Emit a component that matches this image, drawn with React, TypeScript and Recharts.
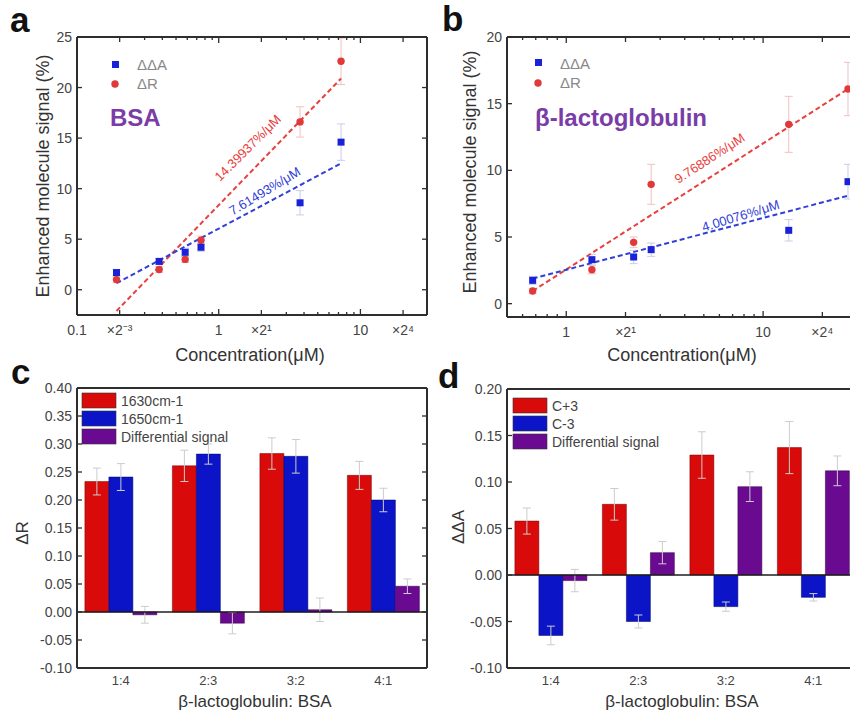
import React from "react";
import { ComposedChart, Scatter, XAxis, YAxis, ErrorBar, BarChart, Bar, ReferenceLine } from "recharts";

const FONT = '"Liberation Sans", Arial, Helvetica, sans-serif';
const AXIS = "#2e2e2e";
const TICK_TEXT = "#444";
const PT_BLUE = "#1a22d8";
const PT_RED = "#e0393a";
const LINE_RED = "#e8403c";
const LINE_BLUE = "#3040d8";
const BAR_RED = "#d80a0a";
const BAR_BLUE = "#0c14c8";
const BAR_PURPLE = "#6a0a90";
const TITLE_PURPLE = "#7a3ca6";

// ---------- Panel a (BSA) ----------
const concA = [0.19, 0.38, 0.58, 0.75, 3.75, 7.3];
const ddaA = [1.7, 2.8, 3.7, 4.2, 8.6, 14.6];
const ddaAErr = [0.3, 0.3, 0.4, 0.4, 1.2, 1.8];
const drA = [1.0, 2.0, 3.0, 4.9, 16.6, 22.6];
const drAErr = [0.3, 0.3, 0.3, 0.4, 1.5, 2.3];
const fitXA = [0.19, 7.3];
const fitRedA = [-2.1, 20.9];
const fitBlueA = [0.65, 12.5];
const logTicksA = [0.1, 0.2, 0.3, 0.4, 0.5, 0.6, 0.7, 0.8, 0.9, 1, 2, 3, 4, 5, 6, 7, 8, 9, 10, 20];
const logLabelsA: [number, string][] = [[0.1, "0.1"], [0.2, "×2⁻³"], [1, "1"], [2, "×2¹"], [10, "10"], [20, "×2⁴"]];
const yTicksA = [0, 5, 10, 15, 20, 25];

// ---------- Panel b (beta-lactoglobulin) ----------
const concB = [0.675, 1.35, 2.2, 2.7, 13.5, 27];
const ddaB = [1.75, 3.3, 3.5, 4.05, 5.5, 9.15];
const ddaBErr = [0.3, 0.4, 0.5, 0.5, 0.8, 1.3];
const drB = [0.95, 2.55, 4.6, 8.95, 13.45, 16.1];
const drBErr = [0.2, 0.3, 0.4, 1.5, 2.1, 2.0];
const fitXB = [0.675, 27];
const fitRedB = [0.95, 16.1];
const fitBlueB = [1.88, 8.1];
const logTicksB = [0.5, 0.6, 0.7, 0.8, 0.9, 1, 2, 3, 4, 5, 6, 7, 8, 9, 10, 20, 30];
const logLabelsB: [number, string][] = [[1, "1"], [2, "×2¹"], [10, "10"], [20, "×2⁴"]];
const yTicksB = [0, 5, 10, 15, 20];
const decades = [0.1, 1, 10];

// ---------- Panel c ----------
const ratios = ["1:4", "2:3", "3:2", "4:1"];
const c1630 = [0.233, 0.261, 0.283, 0.244];
const c1630Err = [0.024, 0.028, 0.028, 0.025];
const c1650 = [0.241, 0.282, 0.278, 0.2];
const c1650Err = [0.024, 0.018, 0.03, 0.021];
const cDiff = [-0.005, -0.02, 0.004, 0.046];
const cDiffErr = [0.015, 0.019, 0.021, 0.013];
const yTicksC = [-0.1, -0.05, 0, 0.05, 0.1, 0.15, 0.2, 0.25, 0.3, 0.35, 0.4];

// ---------- Panel d ----------
const dCp3 = [0.058, 0.076, 0.129, 0.137];
const dCp3Err = [0.014, 0.017, 0.025, 0.028];
const dCm3 = [-0.065, -0.05, -0.034, -0.024];
const dCm3Err = [0.01, 0.007, 0.005, 0.004];
const dDiff = [-0.006, 0.024, 0.095, 0.112];
const dDiffErr = [0.012, 0.012, 0.016, 0.016];
const yTicksD = [-0.1, -0.05, 0, 0.05, 0.1, 0.15, 0.2];

const pts = (xs: number[], ys: number[], es: number[]) => xs.map((x, i) => ({ x, y: ys[i], e: es[i] }));
const fit = (xs: number[], ys: number[]) => xs.map((x, i) => ({ x, y: ys[i] }));

const ptsADda = pts(concA, ddaA, ddaAErr);
const ptsADr = pts(concA, drA, drAErr);
const ptsBDda = pts(concB, ddaB, ddaBErr);
const ptsBDr = pts(concB, drB, drBErr);

const barC = ratios.map((cat, i) => ({ cat, a: c1630[i], aErr: c1630Err[i], b: c1650[i], bErr: c1650Err[i], c: cDiff[i], cErr: cDiffErr[i] }));
const barD = ratios.map((cat, i) => ({ cat, a: dCp3[i], aErr: dCp3Err[i], b: dCm3[i], bErr: dCm3Err[i], c: dDiff[i], cErr: dDiffErr[i] }));

function logXTick(labels: [number, string][], dir: number, show: boolean) {
  return (props: any) => {
    const { x, y, payload } = props;
    const v = payload.value;
    const found = labels.find((l) => Math.abs(l[0] - v) < 1e-9);
    const len = decades.includes(v) ? 6 : found ? 5 : 3;
    return (
      <g>
        <line x1={x} x2={x} y1={y} y2={y + dir * len} stroke={AXIS} strokeWidth={1.3} />
        {show && found ? (
          <text x={x} y={y + 20} textAnchor="middle" fontSize={14} fill={TICK_TEXT} fontFamily={FONT}>
            {found[1]}
          </text>
        ) : null}
      </g>
    );
  };
}

function yTick(fmt: (v: number) => string, dir: number, show: boolean) {
  return (props: any) => {
    const { x, y, payload } = props;
    return (
      <g>
        <line x1={x} x2={x + dir * 5} y1={y} y2={y} stroke={AXIS} strokeWidth={1.3} />
        {show ? (
          <text x={x - 5} y={y + 5} textAnchor="end" fontSize={14} fill={TICK_TEXT} fontFamily={FONT}>
            {fmt(payload.value)}
          </text>
        ) : null}
      </g>
    );
  };
}

const catTick = (props: any) => {
  const { x, y, payload } = props;
  return (
    <text x={x} y={y + 17} textAnchor="middle" fontSize={13} fill={TICK_TEXT} fontFamily={FONT}>
      {payload.value}
    </text>
  );
};

const Empty = () => <g />;
const BlueSquare = (p: any) => <rect x={p.cx - 3.5} y={p.cy - 3.5} width={7} height={7} fill={PT_BLUE} />;
const RedDot = (p: any) => <circle cx={p.cx} cy={p.cy} r={3.7} fill={PT_RED} />;

const frameLine = { stroke: AXIS, strokeWidth: 2 };
const intFmt = (v: number) => String(v);
const decFmt = (v: number) => v.toFixed(2);

function ScatterPanel(props: {
  domain: [number, number];
  yDomain: [number, number];
  ticks: number[];
  labels: [number, string][];
  yTicks: number[];
  dda: any[];
  dr: any[];
  fitR: any[];
  fitB: any[];
  height: number;
}) {
  const { domain, yDomain, ticks, labels, yTicks, dda, dr, fitR, fitB, height } = props;
  return (
    <ComposedChart width={432} height={height} margin={{ top: 36, right: 4, bottom: 0, left: 37 }}>
      <XAxis type="number" dataKey="x" scale="log" domain={domain} allowDataOverflow ticks={ticks} interval={0} height={25}
        tickSize={0} tickMargin={0} tickLine={false} axisLine={frameLine} tick={logXTick(labels, -1, true)} />
      <XAxis xAxisId="t" orientation="top" type="number" dataKey="x" scale="log" domain={domain} allowDataOverflow ticks={ticks} interval={0} height={1}
        tickSize={0} tickMargin={0} tickLine={false} axisLine={frameLine} tick={logXTick(labels, 1, false)} />
      <YAxis type="number" dataKey="y" domain={yDomain} allowDataOverflow ticks={yTicks} interval={0} width={40}
        tickSize={0} tickMargin={0} tickLine={false} axisLine={frameLine} tick={yTick(intFmt, 1, true)} />
      <YAxis yAxisId="r" orientation="right" type="number" dataKey="y" domain={yDomain} allowDataOverflow ticks={yTicks} interval={0} width={1}
        tickSize={0} tickMargin={0} tickLine={false} axisLine={frameLine} tick={yTick(intFmt, -1, false)} />
      <Scatter data={fitR} line={{ stroke: LINE_RED, strokeWidth: 2, strokeDasharray: "5 3" }} shape={Empty} isAnimationActive={false} />
      <Scatter data={fitB} line={{ stroke: LINE_BLUE, strokeWidth: 2, strokeDasharray: "5 3" }} shape={Empty} isAnimationActive={false} />
      <Scatter data={dr} shape={RedDot} isAnimationActive={false}>
        <ErrorBar dataKey="e" direction="y" width={4} stroke="#f2c0c0" strokeWidth={1} />
      </Scatter>
      <Scatter data={dda} shape={BlueSquare} isAnimationActive={false}>
        <ErrorBar dataKey="e" direction="y" width={4} stroke="#c8cce8" strokeWidth={1} />
      </Scatter>
    </ComposedChart>
  );
}

function BarPanel(props: { data: any[]; yDomain: [number, number]; yTicks: number[]; top: number }) {
  const { data, yDomain, yTicks, top } = props;
  const eb = { direction: "y" as const, width: 4, stroke: "#cccccc", strokeWidth: 1 };
  return (
    <BarChart width={432} height={348} data={data} margin={{ top, right: 4, bottom: 0, left: 37 }} barCategoryGap="9%" barGap={0}>
      <XAxis dataKey="cat" height={30} tickSize={0} tickMargin={0} tickLine={false} axisLine={frameLine} tick={catTick} interval={0} />
      <XAxis xAxisId="t" orientation="top" dataKey="cat" height={1} tick={false} tickLine={false} axisLine={frameLine} />
      <YAxis type="number" domain={yDomain} allowDataOverflow ticks={yTicks} interval={0} width={40}
        tickSize={0} tickMargin={0} tickLine={false} axisLine={frameLine} tick={yTick(decFmt, 1, true)} />
      <YAxis yAxisId="r" orientation="right" type="number" domain={yDomain} allowDataOverflow ticks={yTicks} interval={0} width={1}
        tickSize={0} tickMargin={0} tickLine={false} axisLine={frameLine} tick={yTick(decFmt, -1, false)} />
      <Bar dataKey="a" fill={BAR_RED} stroke="#700" strokeWidth={0.5} isAnimationActive={false}>
        <ErrorBar dataKey="aErr" {...eb} />
      </Bar>
      <Bar dataKey="b" fill={BAR_BLUE} stroke="#006" strokeWidth={0.5} isAnimationActive={false}>
        <ErrorBar dataKey="bErr" {...eb} />
      </Bar>
      <Bar dataKey="c" fill={BAR_PURPLE} stroke="#300040" strokeWidth={0.5} isAnimationActive={false}>
        <ErrorBar dataKey="cErr" {...eb} />
      </Bar>
      <ReferenceLine y={0} stroke="#1e1e1e" strokeWidth={1.6} />
    </BarChart>
  );
}

const legendItems = (x: number, y: number, names: string[], colors: string[], step: number) =>
  names.map((n, i) => (
    <g key={n}>
      <rect x={x} y={y + i * step} width={34} height={15} fill={colors[i]} stroke="#333" strokeWidth={0.6} />
      <text x={x + 39} y={y + i * step + 13} fontSize={14} fill="#444" fontFamily={FONT}>{n}</text>
    </g>
  ));

export default function App() {
  return (
    <div style={{ position: "fixed", left: 0, top: 0, width: 850, height: 717, overflow: "hidden", background: "#fff", fontFamily: FONT }}>
      <div style={{ position: "absolute", left: 0, top: 0 }}>
        <ScatterPanel domain={[0.1, 29.5]} yDomain={[-2.5, 25]} ticks={logTicksA} labels={logLabelsA} yTicks={yTicksA}
          dda={ptsADda} dr={ptsADr} fitR={fit(fitXA, fitRedA)} fitB={fit(fitXA, fitBlueA)} height={340} />
      </div>
      <div style={{ position: "absolute", left: 430, top: 0 }}>
        <ScatterPanel domain={[0.5, 30]} yDomain={[-1, 20]} ticks={logTicksB} labels={logLabelsB} yTicks={yTicksB}
          dda={ptsBDda} dr={ptsBDr} fitR={fit(fitXB, fitRedB)} fitB={fit(fitXB, fitBlueB)} height={342} />
      </div>
      <div style={{ position: "absolute", left: 0, top: 350 }}>
        <BarPanel data={barC} yDomain={[-0.1, 0.4]} yTicks={yTicksC} top={37} />
      </div>
      <div style={{ position: "absolute", left: 430, top: 350 }}>
        <BarPanel data={barD} yDomain={[-0.1, 0.2]} yTicks={yTicksD} top={38} />
      </div>
      <svg width={850} height={717} style={{ position: "absolute", left: 0, top: 0, pointerEvents: "none" }} fontFamily={FONT}>
        {/* panel letters */}
        <text x={10} y={32} fontSize={35} fontWeight="bold" fill="#111">a</text>
        <text x={442} y={31} fontSize={35} fontWeight="bold" fill="#111">b</text>
        <text x={11} y={384} fontSize={35} fontWeight="bold" fill="#111">c</text>
        <text x={438} y={388} fontSize={35} fontWeight="bold" fill="#111">d</text>

        {/* panel a annotations */}
        <rect x={112} y={61} width={7} height={7} fill={PT_BLUE} />
        <text x={137} y={70} fontSize={15} fill="#888">ΔΔA</text>
        <circle cx={115} cy={84} r={3.7} fill={PT_RED} />
        <text x={137} y={89} fontSize={15} fill="#888">ΔR</text>
        <text x={110} y={126} fontSize={24} fontWeight="bold" fill={TITLE_PURPLE}>BSA</text>
        <text x={251} y={151} fontSize={13} fill={LINE_RED} textAnchor="middle" transform="rotate(-45 251 151)">14.39937%/μM</text>
        <text x={267} y={195} fontSize={13} fill={LINE_BLUE} textAnchor="middle" transform="rotate(-31 267 195)">7.61493%/μM</text>
        <text x={250} y={361} fontSize={18} fill="#333" textAnchor="middle">Concentration(μM)</text>
        <text x={49} y={176} fontSize={18} fill="#333" textAnchor="middle" transform="rotate(-90 49 176)">Enhanced molecule signal (%)</text>

        {/* panel b annotations */}
        <rect x={535} y={59} width={7} height={7} fill={PT_BLUE} />
        <text x={560} y={69} fontSize={15} fill="#888">ΔΔA</text>
        <circle cx={538} cy={83} r={3.7} fill={PT_RED} />
        <text x={560} y={88} fontSize={15} fill="#888">ΔR</text>
        <text x={535} y={126} fontSize={24} fontWeight="bold" fill={TITLE_PURPLE}>β-lactoglobulin</text>
        <text x={712} y={162} fontSize={13} fill={LINE_RED} textAnchor="middle" transform="rotate(-33 712 162)">9.76886%/μM</text>
        <text x={742} y={220} fontSize={13} fill={LINE_BLUE} textAnchor="middle" transform="rotate(-17 742 220)">4.00076%/μM</text>
        <text x={682} y={361} fontSize={18} fill="#333" textAnchor="middle">Concentration(μM)</text>
        <text x={476} y={172} fontSize={18} fill="#333" textAnchor="middle" transform="rotate(-90 476 172)">Enhanced molecule signal (%)</text>

        {/* panel c annotations */}
        {legendItems(82, 393, ["1630cm-1", "1650cm-1", "Differential signal"], [BAR_RED, BAR_BLUE, BAR_PURPLE], 18)}
        <text x={255} y={707} fontSize={17} fill="#333" textAnchor="middle">β-lactoglobulin: BSA</text>
        <text x={28} y={533} fontSize={17} fill="#333" textAnchor="middle" transform="rotate(-90 28 533)">ΔR</text>

        {/* panel d annotations */}
        {legendItems(513, 398, ["C+3", "C-3", "Differential signal"], [BAR_RED, BAR_BLUE, BAR_PURPLE], 18)}
        <text x={682} y={707} fontSize={17} fill="#333" textAnchor="middle">β-lactoglobulin: BSA</text>
        <text x={464} y={527} fontSize={17} fill="#333" textAnchor="middle" transform="rotate(-90 464 527)">ΔΔA</text>
      </svg>
    </div>
  );
}
